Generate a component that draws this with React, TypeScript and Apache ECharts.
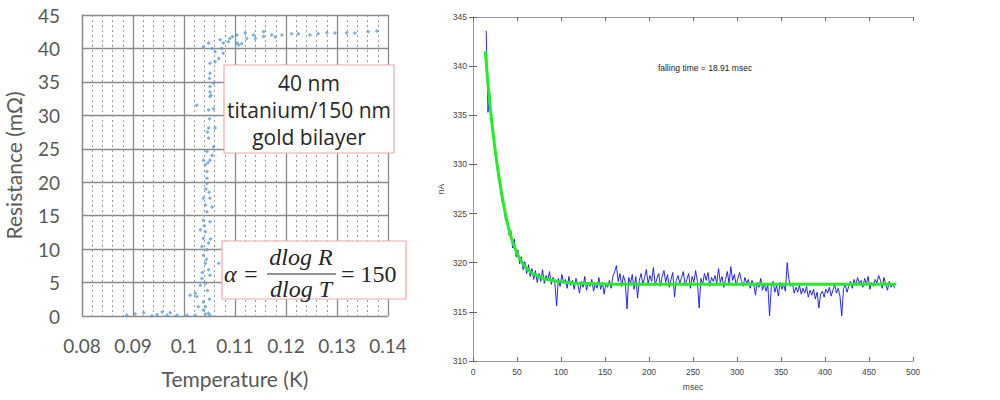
import React, { useEffect, useRef } from "react";
import * as echarts from "echarts";

// ---------- Left chart: resistance vs temperature ----------
const tempK = [
  0.0888, 0.0904, 0.0921, 0.0937, 0.0947, 0.0957, 0.0967, 0.0973, 0.0986, 0.1006, 0.1022, 0.1042, 0.1051,
  0.1048, 0.1038, 0.1028, 0.1042, 0.1038, 0.1025, 0.1022, 0.1012, 0.1032, 0.1042, 0.1035, 0.1051, 0.1048,
  0.1042, 0.1068, 0.1038, 0.1045, 0.1035, 0.1048, 0.1038, 0.1042, 0.1032, 0.1051, 0.1038, 0.1045, 0.1055,
  0.1042, 0.1051, 0.1038, 0.1045, 0.1045, 0.1045, 0.1042, 0.1047, 0.1051, 0.1038, 0.1045, 0.1058, 0.1048,
  0.1061, 0.1048, 0.1050, 0.1058, 0.1048, 0.1025, 0.1051, 0.1051, 0.1051, 0.1058, 0.1051, 0.1051, 0.1061,
  0.1068, 0.1077, 0.1061, 0.1074, 0.1055, 0.1038, 0.1048, 0.1077, 0.1087, 0.1071, 0.1104, 0.1113, 0.1107,
  0.1104, 0.1120, 0.1123, 0.1136, 0.1140, 0.1156, 0.1156, 0.1172, 0.1179, 0.1192, 0.1211, 0.1224, 0.1247,
  0.1263, 0.1280, 0.1296, 0.1319, 0.1335, 0.1361, 0.1378,
  0.1050, 0.1053, 0.1046, 0.1055, 0.1043, 0.1049, 0.1040, 0.1052, 0.1044, 0.1036, 0.1046, 0.1050, 0.1090, 0.1095,
];
const resistanceMOhm = [
  0.1, 0.3, 0.5, 0.0, 0.2, 0.6, 0.1, 0.5, 0.1, 0.1, 0.1, 0.3, 0.1,
  0.4, 0.9, 1.4, 1.4, 2.1, 2.9, 3.4, 3.1, 4.6, 4.9, 5.6, 6.1, 6.9,
  7.9, 7.9, 9.1, 9.9, 10.4, 10.9, 11.6, 12.6, 12.9, 14.1, 14.3, 15.6, 16.3,
  16.6, 17.6, 17.6, 19.8, 20.6, 21.6, 22.6, 22.9, 23.3, 23.3, 24.6, 25.3, 26.6,
  28.1, 28.1, 29.5, 31.0, 30.8, 31.5, 32.8, 33.5, 34.3, 34.8, 36.3, 37.8, 38.0,
  38.5, 39.3, 39.5, 40.0, 40.0, 40.2, 40.8, 40.8, 41.0, 41.3, 40.8, 40.7, 40.5,
  42.0, 42.3, 41.5, 42.0, 41.5, 42.5, 41.8, 42.0, 41.7, 42.0, 42.2, 42.2, 42.0,
  42.2, 42.3, 42.3, 42.3, 42.3, 42.5, 42.6,
  35.5, 33.0, 27.5, 24.0, 19.0, 18.5, 13.5, 11.5, 8.5, 6.5, 3.8, 2.5, 41.5, 41.8,
];
const tempTicks = { min: 0.08, max: 0.14, interval: 0.01 };
const resTicks = { min: 0, max: 45, interval: 5 };
const sampleLabel = ["40 nm", "titanium/150 nm", "gold bilayer"];

// ---------- Right chart: current vs time ----------
const blueStartMs = 15;
const blueStepMs = 2;
const blueCurrentNA = [
  343.6, 335.3, 337.2, 334.2, 333.3, 331.0, 330.3, 328.4, 327.9, 326.2,
  325.8, 324.3, 324.4, 322.8, 323.3, 321.5, 322.4, 320.6, 321.3, 319.9,
  320.6, 319.3, 320.1, 318.9, 319.8, 318.6, 319.4, 318.3, 319.2, 318.0,
  318.9, 318.1, 319.3, 317.9, 318.7, 318.2, 319.1, 317.8, 318.5, 318.0,
  315.6, 318.4, 317.6, 318.8, 317.9, 318.3, 317.4, 318.6, 317.7, 318.2,
  317.3, 318.4, 317.8, 316.9, 318.1, 317.5, 318.6, 317.2, 318.0, 317.6,
  318.3, 317.1, 317.9, 317.4, 318.5, 317.3, 318.0, 316.8, 317.9, 317.5,
  318.2, 317.4, 318.6, 319.1, 319.7, 318.1, 318.9, 317.6, 318.7, 318.0,
  315.3, 318.5, 317.9, 318.8, 317.3, 318.6, 316.4, 318.2, 318.9, 317.8,
  318.5, 319.3, 317.9, 318.7, 318.1, 319.5, 317.7, 318.4, 318.9, 317.6,
  318.6, 319.2, 318.0, 318.8, 317.5, 318.3, 319.0, 316.5, 318.2, 318.7,
  317.9, 318.5, 319.1, 317.7, 318.3, 318.9, 317.4, 318.6, 318.0, 319.2,
  318.1, 315.4, 318.4, 317.8, 318.9, 318.2, 319.0, 317.6, 318.5, 318.1,
  318.7, 317.9, 319.4, 318.0, 318.6, 317.5, 318.3, 319.1, 317.9, 319.6,
  318.2, 318.8, 317.7, 318.4, 319.0, 318.1, 317.6, 318.5, 317.9, 318.3,
  317.4, 318.2, 317.8, 316.7, 318.0, 317.5, 318.4, 317.2, 317.9, 317.1,
  317.8, 314.6, 317.5, 318.1, 317.0, 317.7, 316.6, 318.0, 317.3, 317.8,
  317.1, 320.0, 318.3, 317.6, 317.9, 316.9, 317.5, 317.0, 317.7, 316.8,
  317.4, 316.9, 317.6, 316.5, 317.2, 316.7, 317.3, 316.3, 317.0, 315.4,
  316.8, 317.1, 316.5, 317.3, 316.9, 317.5, 316.6, 317.2, 317.8, 316.9,
  317.4, 316.6, 314.6, 317.3, 317.8, 317.0, 317.6, 318.1, 317.4, 318.3,
  317.7, 318.5, 317.9, 318.2, 317.5, 318.4, 317.8, 318.6, 317.3, 318.0,
  317.6, 318.3, 317.9, 318.7, 318.2, 317.4, 318.5, 317.8, 317.2, 318.1,
  317.5, 317.9, 317.4,
];
const fitTimeMs = [14, 16, 18, 20, 22, 25, 28, 31, 34, 37, 40, 44, 48, 52, 56, 60, 65, 70, 75, 80, 90, 100, 110, 120, 140, 160, 200, 300, 400, 481];
const fitCurrentNA = [
  341.5, 339.3, 337.3, 335.5, 333.8, 331.6, 329.6, 327.9, 326.3, 324.9, 323.7, 322.4, 321.4, 320.6, 320.0,
  319.5, 319.1, 318.8, 318.6, 318.4, 318.2, 318.05, 317.95, 317.9, 317.85, 317.82, 317.8, 317.8, 317.8, 317.8,
];
const timeTicks = { min: 0, max: 500, interval: 50 };
const currentTicks = { min: 310, max: 345, interval: 5 };
const annotation = "falling time = 18.91 msec";

export default function App() {
  const ref = useRef<HTMLDivElement>(null);
  useEffect(() => {
    if (!ref.current) return;
    const chart = echarts.init(ref.current, null, { renderer: "svg" });
    const scatterData = tempK.map((t, i) => [t, resistanceMOhm[i]]);
    const blueData = blueCurrentNA.map((v, i) => [blueStartMs + i * blueStepMs, v]);
    const fitData = fitTimeMs.map((t, i) => [t, fitCurrentNA[i]]);
    const xlFont = "Lato, 'Open Sans', sans-serif";
    const boxFont = "'Open Sans', Lato, sans-serif";
    const mathFont = "'Liberation Serif', serif";
    const mlFont = "'Liberation Sans', Arial, sans-serif";
    const rAxisLine = { show: true, lineStyle: { color: "#9a9a9a", width: 1 } };
    const rTick = { show: true, inside: true, length: 4, lineStyle: { color: "#666" } };

    chart.setOption({
      animation: false,
      backgroundColor: "#fff",
      grid: [
        { left: 82, top: 15, width: 306, height: 301 },
        { left: 473, top: 17, width: 440, height: 344 },
      ],
      xAxis: [
        {
          gridIndex: 0,
          type: "value",
          ...tempTicks,
          name: "Temperature (K)",
          nameLocation: "middle",
          nameGap: 52,
          nameTextStyle: { fontFamily: xlFont, fontSize: 21, color: "#595959" },
          axisLine: { show: false },
          axisTick: { show: false },
          axisLabel: {
            fontFamily: xlFont,
            fontSize: 19,
            color: "#595959",
            margin: 20,
            formatter: (v: number) => v.toFixed(2).replace(/0$/, ""),
          },
          splitLine: { show: true, lineStyle: { color: "#8a8a8a", width: 1.3 } },
          minorTick: { show: false, splitNumber: 5 },
          minorSplitLine: { show: true, lineStyle: { color: "#9a9a9a", type: [2, 3], width: 1 } },
        },
        {
          gridIndex: 1,
          type: "value",
          ...timeTicks,
          name: "msec",
          nameLocation: "middle",
          nameGap: 21,
          nameTextStyle: { fontFamily: mlFont, fontSize: 8.5, color: "#444" },
          axisLine: rAxisLine,
          axisTick: rTick,
          axisLabel: { fontFamily: mlFont, fontSize: 8.5, color: "#444", margin: 6 },
          splitLine: { show: false },
        },
        {
          gridIndex: 1,
          type: "value",
          position: "top",
          ...timeTicks,
          axisLine: rAxisLine,
          axisTick: rTick,
          axisLabel: { show: false },
          splitLine: { show: false },
        },
      ],
      yAxis: [
        {
          gridIndex: 0,
          type: "value",
          ...resTicks,
          name: "Resistance (mΩ)",
          nameLocation: "middle",
          nameGap: 58,
          nameTextStyle: { fontFamily: xlFont, fontSize: 21, color: "#595959" },
          axisLine: { show: true, lineStyle: { color: "#8a8a8a", width: 1.3 } },
          axisTick: { show: false },
          axisLabel: { fontFamily: xlFont, fontSize: 19, color: "#595959", margin: 22 },
          splitLine: { show: true, lineStyle: { color: "#8a8a8a", width: 1.3 } },
        },
        {
          gridIndex: 1,
          type: "value",
          ...currentTicks,
          name: "nA",
          nameLocation: "middle",
          nameGap: 28,
          nameTextStyle: { fontFamily: mlFont, fontSize: 8.5, color: "#444" },
          axisLine: rAxisLine,
          axisTick: rTick,
          axisLabel: { fontFamily: mlFont, fontSize: 8.5, color: "#444", margin: 6 },
          splitLine: { show: false },
        },
        {
          gridIndex: 1,
          type: "value",
          position: "right",
          ...currentTicks,
          axisLine: rAxisLine,
          axisTick: rTick,
          axisLabel: { show: false },
          splitLine: { show: false },
        },
      ],
      series: [
        {
          type: "scatter",
          xAxisIndex: 0,
          yAxisIndex: 0,
          data: scatterData,
          symbol: "diamond",
          symbolSize: 4,
          itemStyle: { color: "#5b9bd5" },
        },
        {
          type: "line",
          xAxisIndex: 1,
          yAxisIndex: 1,
          data: blueData,
          showSymbol: false,
          lineStyle: { color: "#1010ff", width: 1, opacity: 0.9 },
        },
        {
          type: "line",
          xAxisIndex: 1,
          yAxisIndex: 1,
          data: fitData,
          showSymbol: false,
          smooth: 0.2,
          lineStyle: { color: "#22ee22", width: 3 },
        },
      ],
      graphic: [
        {
          type: "rect",
          shape: { x: 224, y: 65, width: 170, height: 88 },
          style: { fill: "#fff", stroke: "#f2a7a7", lineWidth: 1.2 },
          z: 100,
        },
        ...sampleLabel.map((t, i) => ({
          type: "text",
          x: 309,
          y: 83 + i * 27,
          style: {
            text: t,
            fontFamily: boxFont,
            fontSize: 21,
            fill: "#262626",
            align: "center",
            verticalAlign: "middle",
          },
          z: 101,
        })),
        {
          type: "rect",
          shape: { x: 222, y: 241, width: 184, height: 58 },
          style: { fill: "#fff", stroke: "#f2a7a7", lineWidth: 1.2 },
          z: 100,
        },
        {
          type: "text",
          x: 224,
          y: 274,
          style: { text: "α =", fontFamily: mathFont, fontStyle: "italic", fontSize: 24, fill: "#262626", verticalAlign: "middle" },
          z: 101,
        },
        {
          type: "text",
          x: 301,
          y: 257,
          style: { text: "dlog R", fontFamily: mathFont, fontStyle: "italic", fontSize: 24, fill: "#262626", align: "center", verticalAlign: "middle" },
          z: 101,
        },
        {
          type: "line",
          shape: { x1: 267, y1: 274, x2: 336, y2: 274 },
          style: { stroke: "#262626", lineWidth: 1.2 },
          z: 101,
        },
        {
          type: "text",
          x: 301,
          y: 289,
          style: { text: "dlog T", fontFamily: mathFont, fontStyle: "italic", fontSize: 24, fill: "#262626", align: "center", verticalAlign: "middle" },
          z: 101,
        },
        {
          type: "text",
          x: 341,
          y: 274,
          style: { text: "= 150", fontFamily: mathFont, fontSize: 24, fill: "#262626", verticalAlign: "middle" },
          z: 101,
        },
        {
          type: "text",
          x: 705,
          y: 68,
          style: { text: annotation, fontFamily: mlFont, fontSize: 8.5, fill: "#222", align: "center", verticalAlign: "middle" },
          z: 101,
        },
      ],
    });
    return () => chart.dispose();
  }, []);
  return <div ref={ref} style={{ position: "fixed", left: 0, top: 0, width: 1000, height: 400, background: "#fff" }} />;
}
